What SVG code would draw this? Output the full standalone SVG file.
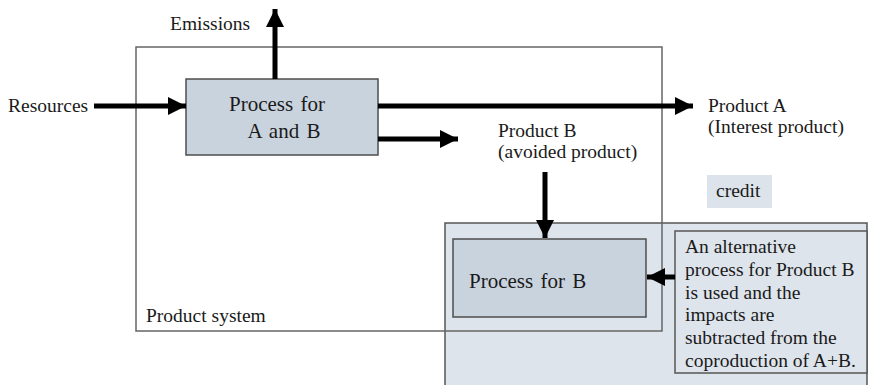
<svg xmlns="http://www.w3.org/2000/svg" width="869" height="385" viewBox="0 0 869 385">
<style>
  .t { font-family: 'Liberation Serif', 'DejaVu Serif', serif; fill: #1a1a1a; }
  .lbl { font-size: 19.5px; }
  .proc { font-size: 21px; }
  .box { fill: #c9d3de; stroke: #4d4d4d; stroke-width: 1.5; }
  .region { fill: #dee4ec; stroke: #555; stroke-width: 1.5; }
  .sys { fill: none; stroke: #666; stroke-width: 1.5; }
  .flow { stroke: #000; stroke-width: 5; fill: none; marker-end: url(#ah); }
</style>
<defs>
  <marker id="ah" markerUnits="userSpaceOnUse" markerWidth="18" markerHeight="18" refX="18" refY="9" orient="auto">
    <path d="M0,0 L18,9 L0,18 z" fill="#000"/>
  </marker>
</defs>
<rect width="869" height="385" fill="#fff"/>
<g font-family="Liberation Serif, DejaVu Serif, serif">
<g id="credit-region">
  <rect class="region" x="445" y="223" width="422" height="170"/>
</g>
<g id="product-system">
  <rect class="sys" x="136" y="47" width="526" height="284"/>
  <text class="t lbl" x="146" y="322">Product system</text>
</g>
<g id="process-ab">
  <rect class="box" x="186" y="79" width="192" height="76"/>
  <text class="t proc" x="277" y="111" text-anchor="middle" word-spacing="2">Process for</text>
  <text class="t proc" x="284" y="138" text-anchor="middle" word-spacing="2">A and B</text>
</g>
<g id="process-b">
  <rect class="box" x="453" y="239" width="193" height="78"/>
  <text class="t proc" x="469" y="288" word-spacing="2">Process for B</text>
</g>
<g id="alt-note">
  <rect class="region" x="675" y="231" width="192" height="142"/>
  <text class="t lbl" x="685" y="253">An alternative</text>
  <text class="t lbl" x="685" y="276">process for Product B</text>
  <text class="t lbl" x="685" y="299">is used and the</text>
  <text class="t lbl" x="685" y="321">impacts are</text>
  <text class="t lbl" x="685" y="344">subtracted from the</text>
  <text class="t lbl" x="685" y="367">coproduction of A+B.</text>
</g>
<g id="credit">
  <rect x="707" y="175" width="65" height="33" fill="#dce3ea"/>
  <text class="t lbl" x="716" y="197">credit</text>
</g>
<g id="resources"><text class="t lbl" x="8" y="112">Resources</text></g>
<g id="emissions"><text class="t lbl" x="170" y="30">Emissions</text></g>
<g id="product-a">
  <text class="t lbl" x="708" y="112">Product A</text>
  <text class="t lbl" x="708" y="133">(Interest product)</text>
</g>
<g id="product-b">
  <text class="t lbl" x="498" y="137">Product B</text>
  <text class="t lbl" x="498" y="158">(avoided product)</text>
</g>
</g>
<g id="connectors">
  <line class="flow" x1="94" y1="106" x2="186" y2="106"/>
  <line class="flow" x1="275" y1="79" x2="275" y2="9"/>
  <line class="flow" x1="378" y1="106" x2="693" y2="106"/>
  <line class="flow" x1="378" y1="139" x2="458" y2="139"/>
  <line class="flow" x1="545" y1="172" x2="545" y2="238"/>
  <line class="flow" x1="675" y1="277" x2="647" y2="277"/>
</g>
</svg>
